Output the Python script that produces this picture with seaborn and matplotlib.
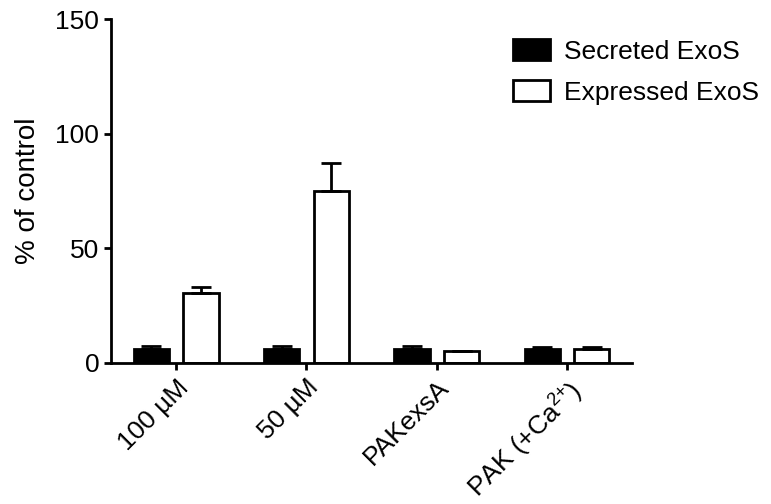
import matplotlib
matplotlib.use("Agg")
import matplotlib.pyplot as plt
import seaborn as sns
import pandas as pd
import numpy as np

categories = ["100 µM", "50 µM", "PAKexsA", "PAK (+Ca$^{2{+}}$)"]
series = ["Secreted ExoS", "Expressed ExoS"]
secreted = [6.2, 6.0, 6.2, 5.9]
secreted_err = [1.2, 1.2, 1.1, 1.2]
expressed = [30.4, 75.0, 5.0, 6.2]
expressed_err = [2.8, 12.4, 0.4, 0.7]

df = pd.DataFrame({
    "group": categories * 2,
    "series": [series[0]] * 4 + [series[1]] * 4,
    "value": secreted + expressed,
})

sns.set_style("ticks")
plt.rcParams["font.family"] = ["Liberation Sans", "DejaVu Sans"]
plt.rcParams["mathtext.fontset"] = "custom"
plt.rcParams["mathtext.rm"] = "Liberation Sans"
plt.rcParams["mathtext.default"] = "regular"
plt.rcParams["text.color"] = "black"
plt.rcParams["axes.labelcolor"] = "black"
plt.rcParams["xtick.color"] = "black"
plt.rcParams["ytick.color"] = "black"
plt.rcParams["axes.edgecolor"] = "black"

fig = plt.figure(figsize=(7.71, 5.04), dpi=100)
ax = fig.add_axes([0.144, 0.280, 0.676, 0.682])

sns.barplot(
    data=df, x="group", y="value", hue="series",
    order=categories, hue_order=series,
    palette=["black", "white"], edgecolor="black", linewidth=2,
    width=0.76, gap=0.29, errorbar=None, ax=ax,
)

errs = [secreted_err, expressed_err]
for cont, err in zip(ax.containers, errs):
    xs = [p.get_x() + p.get_width() / 2 for p in cont]
    ys = [p.get_height() for p in cont]
    ax.errorbar(xs, ys, yerr=[np.zeros(len(err)), err], fmt="none",
                ecolor="black", elinewidth=2, capsize=7, capthick=2, zorder=5)

ax.set_xlim(-0.5, 3.5)
ax.set_ylim(0, 150)
ax.set_yticks([0, 50, 100, 150])
ax.set_xlabel("")
ax.set_ylabel("% of control", fontsize=20, labelpad=10)
ax.tick_params(axis="both", labelsize=19, length=5, width=2, direction="out")
ax.tick_params(axis="x", pad=4)
ax.set_xticks(range(4))
ax.set_xticklabels(categories, rotation=45, ha="right", rotation_mode="anchor")
for s in ["left", "bottom"]:
    ax.spines[s].set_linewidth(2)
sns.despine(ax=ax)

ax.legend(frameon=False, fontsize=19, loc="upper left",
          bbox_to_anchor=(0.648, 0.948), bbox_transform=fig.transFigure,
          handlelength=1.4, handleheight=0.85, handletextpad=0.55,
          labelspacing=0.6, borderpad=0)

fig.savefig("out.png", dpi=100)
